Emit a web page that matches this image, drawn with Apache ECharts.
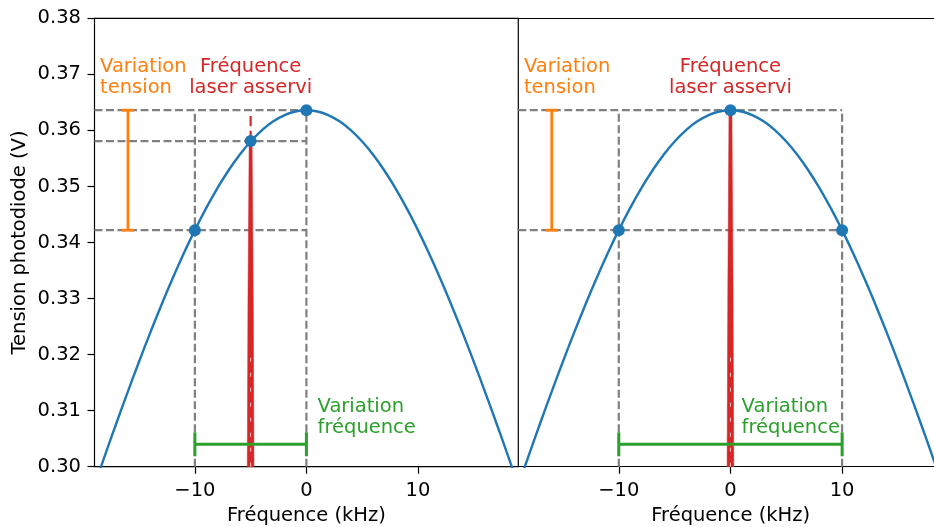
<!DOCTYPE html>
<html><head><meta charset="utf-8">
<script src="https://cdn.jsdelivr.net/npm/echarts@6/dist/echarts.min.js"></script>
<style>html,body{margin:0;padding:0;background:#fff}#c{width:934px;height:527px}</style>
</head><body><div id="c"></div>
<script>
// ---- data ----
const freqKHz = [-19,-18,-17,-16,-15,-14,-13,-12,-11,-10,-9,-8,-7,-6,-5,-4,-3,-2,-1,0,1,2,3,4,5,6,7,8,9,10,11,12,13,14,15,16,17,18,19];
const tensionV = [0.29666,0.30237,0.30797,0.31345,0.31877,0.32392,0.32886,0.33358,0.33804,0.34221,0.34608,0.34962,0.35280,0.35560,0.35801,0.36000,0.36157,0.36269,0.36337,0.36360,0.36337,0.36269,0.36157,0.36000,0.35801,0.35560,0.35280,0.34962,0.34608,0.34221,0.33804,0.33358,0.32886,0.32392,0.31877,0.31345,0.30797,0.30237,0.29666];
const xTicks = [-10, 0, 10];
const yTicks = [0.30, 0.31, 0.32, 0.33, 0.34, 0.35, 0.36, 0.37, 0.38];
const xRangeLeft = [-19, 19];
const xRangeRight = [-19, 18.23];   // right panel is cut by the picture edge
const yRange = [0.30, 0.38];

const leftMarkX = [-10, -5, 0];
const leftMarkY = [0.3422, 0.3581, 0.3636];
const rightMarkX = [-10, 0, 10];
const rightMarkY = [0.3422, 0.3636, 0.3422];

const leftGuides = [
  [[-19, 0.3636], [0, 0.3636]],
  [[-19, 0.3581], [0, 0.3581]],
  [[-19, 0.3422], [0, 0.3422]],
  [[-10, 0.30], [-10, 0.3636]],
  [[0, 0.30], [0, 0.3636]]
];
const rightGuides = [
  [[-19, 0.3636], [10, 0.3636]],
  [[-19, 0.3422], [10, 0.3422]],
  [[-10, 0.30], [-10, 0.3636]],
  [[10, 0.30], [10, 0.3636]]
];

const leftLaser = [[-5.30, 0.30], [-5.24, 0.33], [-5.13, 0.3581], [-4.87, 0.3581], [-4.76, 0.33], [-4.70, 0.30]];
const rightLaser = [[-0.30, 0.30], [-0.24, 0.33], [-0.13, 0.3636], [0.13, 0.3636], [0.24, 0.33], [0.30, 0.30]];
const leftLaserDash = [[-5, 0.30], [-5, 0.3627]];
const leftSeam = [[-5, 0.30], [-5, 0.32]];
const rightSeam = [[0, 0.30], [0, 0.32]];

const tensionBarLeft = [-16, 0.3422, 0.3636];
const tensionBarRight = [-16, 0.3422, 0.3636];
const freqBarLeft = [0.304, -10, 0];
const freqBarRight = [0.304, -10, 10];

const labelTexts = ['Variation\ntension', 'Fréquence\nlaser asservi', 'Variation\nfréquence'];
const leftLabelPos = [[-18.5, 0.3694], [-5, 0.3694], [1, 0.3088]];
const rightLabelPos = [[-18.5, 0.3694], [0, 0.3694], [1, 0.3088]];

// ---- styles ----
const FONT = '"DejaVu Sans", sans-serif';
const FS = 19.5;
const BLUE = '#1f77b4', ORANGE = '#ff7f0e', GREEN = '#2ca02c', RED = '#d62728', GRAY = '#808080';

const chart = echarts.init(document.getElementById('c'), null, {renderer: 'canvas'});

function zip(xs, ys) { return xs.map((x, i) => [x, ys[i]]); }
const minus = v => String(v).replace('-', '\u2212');

function xAxisCfg(gi, range, showLine, namePad) {
  return {
    gridIndex: gi, type: 'value', min: range[0], max: range[1],
    splitLine: {show: false},
    axisLine: {show: showLine, onZero: false, lineStyle: {color: '#000', width: 1.2}},
    axisTick: {show: true, length: 7, inside: false, customValues: xTicks, lineStyle: {color: '#000', width: 1.2}},
    axisLabel: {customValues: xTicks, margin: 14.5, color: '#000', fontFamily: FONT, fontSize: FS, formatter: minus},
    name: 'Fréquence (kHz)', nameLocation: 'middle', nameGap: 39,
    nameTextStyle: {color: '#000', fontFamily: FONT, fontSize: FS, padding: namePad}
  };
}

function guideSeries(segs, gi) {
  return segs.map(s => ({
    type: 'line', xAxisIndex: gi, yAxisIndex: gi, data: s, symbol: 'none', z: 2,
    lineStyle: {color: GRAY, width: 2.2, type: [8, 3.5]}, silent: true, animation: false
  }));
}

function polySeries(pts, gi) {
  return {
    type: 'custom', xAxisIndex: gi, yAxisIndex: gi, data: [[pts[0][0], pts[0][1]]], z: 3, silent: true,
    renderItem: (params, api) => ({
      type: 'polygon',
      shape: {points: pts.map(p => api.coord(p))},
      style: {fill: RED, stroke: RED, lineWidth: 0.5}
    })
  };
}

function dashLine(pts, gi, color, width, dash, z, opacity) {
  return {
    type: 'line', xAxisIndex: gi, yAxisIndex: gi, data: pts, symbol: 'none', z: z, silent: true,
    lineStyle: {color: color, width: width, type: dash, opacity: opacity == null ? 1 : opacity}
  };
}

function vBar(bar, gi, color, capHalf) {
  return {
    type: 'custom', xAxisIndex: gi, yAxisIndex: gi, data: [bar], z: 6, silent: true,
    renderItem: (params, api) => {
      const a = api.coord([bar[0], bar[1]]), b = api.coord([bar[0], bar[2]]);
      const st = {stroke: color, lineWidth: 2.8};
      return {type: 'group', children: [
        {type: 'line', shape: {x1: a[0], y1: a[1], x2: b[0], y2: b[1]}, style: st},
        {type: 'line', shape: {x1: a[0] - capHalf, y1: a[1], x2: a[0] + capHalf, y2: a[1]}, style: st},
        {type: 'line', shape: {x1: b[0] - capHalf, y1: b[1], x2: b[0] + capHalf, y2: b[1]}, style: st}
      ]};
    }
  };
}

function hBar(bar, gi, color, capHalf) {
  return {
    type: 'custom', xAxisIndex: gi, yAxisIndex: gi, data: [[bar[1], bar[0]]], z: 6, silent: true,
    renderItem: (params, api) => {
      const a = api.coord([bar[1], bar[0]]), b = api.coord([bar[2], bar[0]]);
      const st = {stroke: color, lineWidth: 3};
      return {type: 'group', children: [
        {type: 'line', shape: {x1: a[0], y1: a[1], x2: b[0], y2: b[1]}, style: st},
        {type: 'line', shape: {x1: a[0], y1: a[1] - capHalf, x2: a[0], y2: a[1] + capHalf}, style: st},
        {type: 'line', shape: {x1: b[0], y1: b[1] - capHalf, x2: b[0], y2: b[1] + capHalf}, style: st}
      ]};
    }
  };
}

function textSeries(pos, gi) {
  const colors = [ORANGE, RED, GREEN];
  const aligns = ['left', 'center', 'left'];
  return {
    type: 'custom', xAxisIndex: gi, yAxisIndex: gi, data: pos, z: 7, silent: true, clip: false,
    renderItem: (params, api) => {
      const i = params.dataIndex;
      const p = api.coord([api.value(0), api.value(1)]);
      return {type: 'text', x: p[0], y: p[1], style: {
        text: labelTexts[i], fill: colors[i], font: FS + 'px ' + FONT,
        align: aligns[i], verticalAlign: 'middle', lineHeight: 21
      }};
    }
  };
}

const curveData = zip(freqKHz, tensionV);

const option = {
  animation: false,
  backgroundColor: '#fff',
  grid: [
    {left: 94.5, top: 18.3, width: 423.8, height: 448.4, show: true, borderColor: '#000', borderWidth: 1.2,
     backgroundColor: 'transparent', outerBoundsMode: 'none', containLabel: false},
    {left: 518.3, top: 18.3, width: 415.7, height: 448.4, show: false, outerBoundsMode: 'none', containLabel: false}
  ],
  xAxis: [
    xAxisCfg(0, xRangeLeft, false, 0),
    xAxisCfg(1, xRangeRight, true, [0, 0, 0, 9]),
    {gridIndex: 1, type: 'value', position: 'top', min: xRangeRight[0], max: xRangeRight[1],
     axisLine: {show: true, onZero: false, lineStyle: {color: '#000', width: 1.2}},
     axisTick: {show: false}, axisLabel: {show: false}, splitLine: {show: false}}
  ],
  yAxis: [
    {gridIndex: 0, type: 'value', min: yRange[0], max: yRange[1], interval: 0.01,
     splitLine: {show: false}, axisLine: {show: false, onZero: false},
     axisTick: {show: true, length: 7, inside: false, lineStyle: {color: '#000', width: 1.2}},
     axisLabel: {margin: 13.5, color: '#000', fontFamily: FONT, fontSize: FS, formatter: v => v.toFixed(2)},
     name: 'Tension photodiode (V)', nameLocation: 'middle', nameGap: 65, nameRotate: 90,
     nameTextStyle: {color: '#000', fontFamily: FONT, fontSize: FS}},
    {gridIndex: 1, type: 'value', min: yRange[0], max: yRange[1], show: false, axisLine: {onZero: false}}
  ],
  series: [
    ...guideSeries(leftGuides, 0),
    ...guideSeries(rightGuides, 1),
    polySeries(leftLaser, 0),
    polySeries(rightLaser, 1),
    dashLine(leftLaserDash, 0, RED, 2.2, [10.3, 4.5], 3.5),
    dashLine(leftSeam, 0, '#ffffff', 1, [4, 11], 3.6, 0.7),
    dashLine(rightSeam, 1, '#ffffff', 1, [4, 11], 3.6, 0.7),
    {type: 'line', xAxisIndex: 0, yAxisIndex: 0, data: curveData, symbol: 'none', smooth: true, z: 4, clip: true,
     lineStyle: {color: BLUE, width: 2.4}},
    {type: 'line', xAxisIndex: 1, yAxisIndex: 1, data: curveData, symbol: 'none', smooth: true, z: 4, clip: true,
     lineStyle: {color: BLUE, width: 2.4}},
    {type: 'scatter', xAxisIndex: 0, yAxisIndex: 0, data: zip(leftMarkX, leftMarkY), symbolSize: 12, z: 5,
     itemStyle: {color: BLUE, opacity: 1}},
    {type: 'scatter', xAxisIndex: 1, yAxisIndex: 1, data: zip(rightMarkX, rightMarkY), symbolSize: 12, z: 5,
     itemStyle: {color: BLUE, opacity: 1}},
    vBar(tensionBarLeft, 0, ORANGE, 6),
    vBar(tensionBarRight, 1, ORANGE, 6),
    hBar(freqBarLeft, 0, GREEN, 12),
    hBar(freqBarRight, 1, GREEN, 12),
    textSeries(leftLabelPos, 0),
    textSeries(rightLabelPos, 1)
  ]
};
chart.setOption(option);
</script>
</body></html>
